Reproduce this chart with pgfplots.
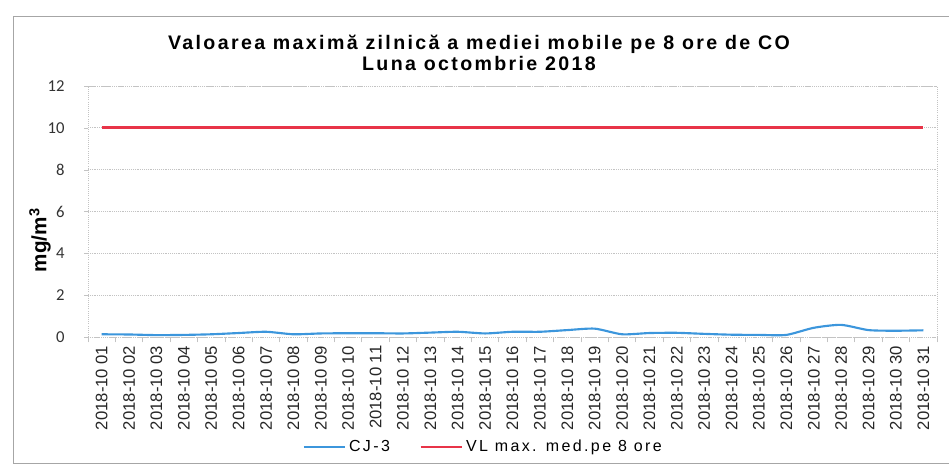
\documentclass[border=0pt]{standalone}
\usepackage{pgfplots}
\pgfplotsset{compat=1.18}
\usepackage{fontspec}
\setmainfont{Liberation Sans}
\newfontfamily\titlefont[LetterSpace=12]{Liberation Sans}
\newfontfamily\calibri{Carlito}
\newfontfamily\legfont[LetterSpace=15]{Liberation Sans}
\definecolor{cjblue}{RGB}{60,150,220}
\definecolor{vlred}{RGB}{232,52,72}
\definecolor{gridgray}{RGB}{195,195,195}

\pgfplotstableread{
day cj vl
1 0.13 10
2 0.12 10
3 0.09 10
4 0.10 10
5 0.13 10
6 0.19 10
7 0.25 10
8 0.13 10
9 0.17 10
10 0.18 10
11 0.18 10
12 0.17 10
13 0.21 10
14 0.25 10
15 0.17 10
16 0.25 10
17 0.25 10
18 0.33 10
19 0.40 10
20 0.13 10
21 0.19 10
22 0.20 10
23 0.15 10
24 0.11 10
25 0.10 10
26 0.10 10
27 0.44 10
28 0.58 10
29 0.33 10
30 0.30 10
31 0.32 10
}\datatable

\begin{document}
\begin{tikzpicture}
\useasboundingbox (0,0) rectangle (711.75pt,351pt);
\draw[gray!70, line width=0.6pt] (712pt,339pt) -- (9.75pt,339pt) -- (9.75pt,3.75pt) -- (712pt,3.75pt);
\node[align=center, font=\titlefont\bfseries\fontsize{14.7}{15.75}\selectfont] at (359.25pt,311.25pt)
  {Valoarea maximă zilnică a mediei mobile pe 8 ore de CO\\Luna octombrie 2018};
\begin{axis}[
  at={(66pt,98.25pt)}, anchor=south west,
  scale only axis, width=636.75pt, height=188.25pt,
  xmin=0.5, xmax=31.5, ymin=0, ymax=12,
  ytick={0,2,...,12},
  xtick={1,...,31},
  minor xtick={0.5,1.5,...,31.5},
  xticklabels={2018-10 01,2018-10 02,2018-10 03,2018-10 04,2018-10 05,2018-10 06,2018-10 07,2018-10 08,2018-10 09,2018-10 10,2018-10 11,2018-10 12,2018-10 13,2018-10 14,2018-10 15,2018-10 16,2018-10 17,2018-10 18,2018-10 19,2018-10 20,2018-10 21,2018-10 22,2018-10 23,2018-10 24,2018-10 25,2018-10 26,2018-10 27,2018-10 28,2018-10 29,2018-10 30,2018-10 31},
  tick align=outside,
  major x tick style={draw=none},
  minor x tick style={gridgray, line width=0.6pt},
  minor tick length=4pt,
  major tick length=3pt,
  y tick style={gridgray},
  ymajorgrids=true,
  grid style={gridgray, densely dotted, line width=0.6pt},
  axis line style={gridgray, densely dotted, line width=0.6pt},
  xtick pos=bottom, ytick pos=left,
  /pgf/number format/assume math mode=true,
  yticklabel style={font=\calibri\fontsize{12.5}{13}\selectfont, text=black!80, xshift=-11pt},
  xticklabel style={rotate=90, anchor=east, font=\fontsize{12.5}{13}\selectfont, text=black!85},
  ylabel={\bfseries mg/m\textsuperscript{3}},
  ylabel style={at={(axis description cs:-0.0565,0.386)}, anchor=center, rotate=0, font=\fontsize{15.5}{16}\selectfont},
  legend columns=2,
  legend style={draw=none, fill=none, at={(axis description cs:0.466,-0.438)}, anchor=center,
    font=\legfont\fontsize{12}{12}\selectfont,
    /tikz/every even column/.append style={column sep=20pt}},
  legend image code/.code={\draw[#1] (0pt,0pt) -- (31pt,0pt);},
]
\addplot[cjblue, line width=1.6pt, smooth, tension=0.4] table[x=day, y=cj] {\datatable};
\addlegendentry{CJ-3}
\addplot[vlred, line width=2pt] table[x=day, y=vl] {\datatable};
\addlegendentry{VL max. med.pe 8 ore}
\end{axis}
\end{tikzpicture}
\end{document}
